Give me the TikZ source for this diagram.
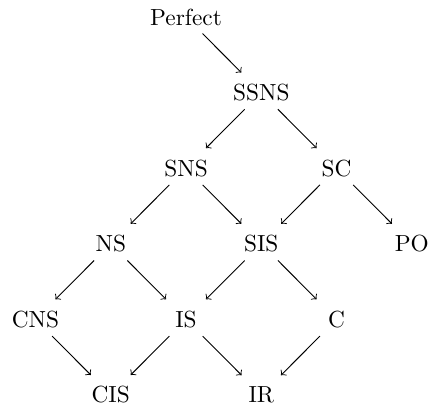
\documentclass[tikz,border=0pt]{standalone}
\usepackage{amsmath}
\usepackage{tikz}
\usetikzlibrary{arrows}

\begin{document}
\begin{tikzpicture} [x=1.135cm, y=1.14cm, scale=1]

%\draw [help lines, step=1mm](0,-6) grid (6,0);
\useasboundingbox (-0.535cm,0.256cm) rectangle (5.934cm,-5.896cm);

\node (perfect) at (2,0) {Perfect};
\node (ssns) at (3,-1) {SSNS};
\node (sns) at (2,-2) {SNS};
\node (sc) at (4,-2) {SC};
\node (ns) at (1,-3) {NS};
\node (sis) at (3,-3) {SIS};
\node (po) at (5,-3) {PO};
\node (cns) at (0,-4) {CNS};
\node (is) at (2,-4) {IS};
\node (c) at (4,-4) {C};
\node (cis) at (1,-5) {CIS};
\node (ir) at (3,-5) {IR};

\draw [->, shorten >=2pt] (perfect) -- (ssns);
\draw [->, shorten >=2pt] (ssns) -- (sns);
\draw [->, shorten >=2pt] (ssns) -- (sc);
\draw [->, shorten >=2pt] (sns) -- (ns);
\draw [->, shorten >=2pt] (sns) -- (sis);
\draw [->, shorten >=2pt] (sc) -- (sis);
\draw [->, shorten >=2pt] (sc) -- (po);
\draw [->, shorten >=2pt] (ns) -- (cns);
\draw [->, shorten >=2pt] (ns) -- (is);
\draw [->, shorten >=2pt] (sis) -- (is);
\draw [->, shorten >=2pt] (sis) -- (c);
\draw [->, shorten >=2pt] (cns) -- (cis);
\draw [->, shorten >=2pt] (is) -- (cis);
\draw [->, shorten >=2pt] (is) -- (ir);
\draw [->, shorten >=2pt] (c) -- (ir);

\end{tikzpicture}
\end{document}
